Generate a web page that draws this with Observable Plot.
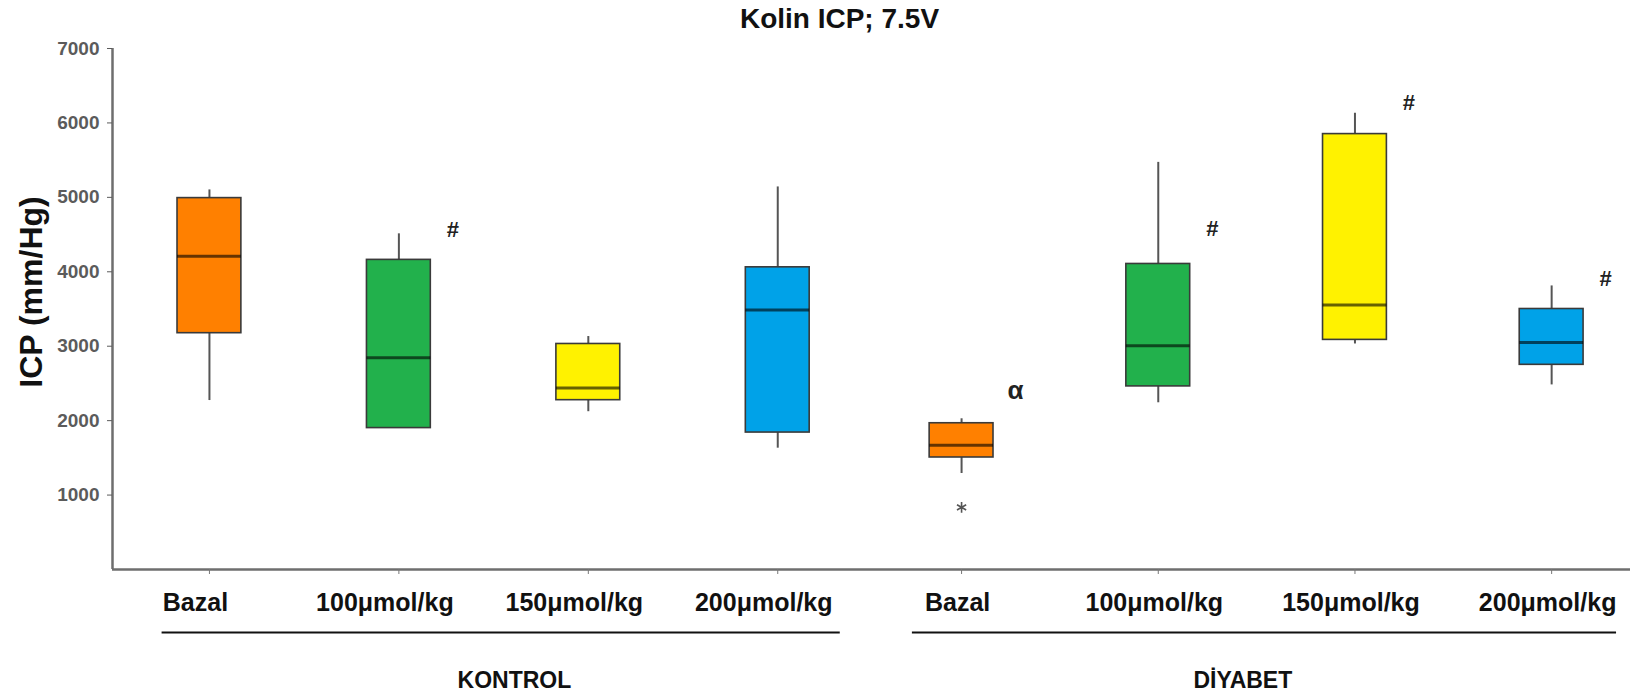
<!DOCTYPE html>
<html>
<head>
<meta charset="utf-8">
<script src="https://cdn.jsdelivr.net/npm/d3@7"></script>
<script src="https://cdn.jsdelivr.net/npm/@observablehq/plot@0.6"></script>
<style>
  html, body { margin: 0; padding: 0; background: #fff; }
  #chart { width: 1630px; height: 697px; }
</style>
</head>
<body>
<div id="chart"></div>
<script>
// ---- data ----
const title = "Kolin ICP; 7.5V";
const yLabel = "ICP (mm/Hg)";
const groups = ["KONTROL", "DİYABET"];
const doses = ["Bazal", "100μmol/kg", "150μmol/kg", "200μmol/kg"];
const doseColors = ["#FF8000", "#22B14C", "#FFF200", "#00A2E8"];
// box order: KONTROL (Bazal,100,150,200), DİYABET (Bazal,100,150,200)
const minV = [2270, 1900, 2120, 1630, 1290, 2240, 3030, 2480];
const q1V  = [3175, 1900, 2275, 1840, 1505, 2460, 3085, 2750];
const medV = [4210, 2845, 2440, 3485, 1670, 3005, 3555, 3050];
const q3V  = [4990, 4160, 3030, 4060, 1965, 4105, 5850, 3500];
const maxV = [5100, 4510, 3130, 5140, 2025, 5470, 6130, 3810];
const markText = ["", "#", "", "", "α", "#", "#", "#"];
const markY    = [null, 4565, null, null, 2400, 4575, 6275, 3905];
const outlierBox = [4];
const outlierY = [835];
const yTicks = [1000, 2000, 3000, 4000, 5000, 6000, 7000];

// ---- layout constants (not data) ----
const groupStart = [0.024, 3.911];   // slot position of each group's first box
const groupStep  = [0.979, 1.0165];  // slot spacing inside each group
const groupLabelShift = [0.11, -0.07];
const groupLabelDx = [-14, -4];      // dose label nudge per group
const halfBox = 0.165;
const font = "'Liberation Sans', Arial, sans-serif";

const boxes = [];
groups.forEach((g, gi) => doses.forEach((d, di) => {
  const i = gi * doses.length + di;
  boxes.push({
    group: g, gi, dose: d, x: groupStart[gi] + di * groupStep[gi], color: doseColors[di],
    min: minV[i], q1: q1V[i], med: medV[i], q3: q3V[i], max: maxV[i],
    mark: markText[i], markY: markY[i]
  });
}));
const groupRows = groups.map((g, gi) => ({
  group: g, gi,
  x1: groupStart[gi] - 0.25 * groupStep[gi],
  x2: groupStart[gi] + 3.33 * groupStep[gi],
  xl: groupStart[gi] + (1.5 + groupLabelShift[gi]) * groupStep[gi]
}));
const tickLabel = new Map(boxes.map(b => [b.x, b.dose]));
const outliers = outlierBox.map((bi, k) => ({x: boxes[bi].x, y: outlierY[k]}));
const xDomain = [-0.477, 7.368];

const doseAxes = groups.map((g, gi) => Plot.axisX({
  ticks: boxes.filter(b => b.gi === gi).map(b => b.x), tickSize: 0, tickPadding: 24,
  fontSize: 25, fontWeight: "bold", color: "#111", label: null, dx: groupLabelDx[gi],
  tickFormat: d => tickLabel.get(d)
}));

const chart = Plot.plot({
  width: 1630,
  height: 697,
  marginLeft: 112,
  marginRight: 0,
  marginTop: 48,
  marginBottom: 128,
  style: {fontFamily: font, color: "#111", background: "#fff"},
  x: {domain: xDomain, axis: null},
  y: {domain: [0, 7000], axis: null},
  marks: [
    // axes lines
    Plot.ruleX([xDomain[0]], {stroke: "#6e6e6e", strokeWidth: 2.5}),
    Plot.ruleY([0], {stroke: "#6e6e6e", strokeWidth: 2.5}),
    Plot.axisY({ticks: yTicks, tickSize: 5, tickPadding: 8, fontSize: 19, fontWeight: "bold",
      color: "#5b5b5b", label: null, tickFormat: d => String(d)}),
    Plot.axisX({ticks: boxes.map(b => b.x), tickSize: 5, text: null, color: "#777", label: null}),
    ...doseAxes,
    // whiskers
    Plot.ruleX(boxes, {x: "x", y1: "q3", y2: "max", stroke: "#555", strokeWidth: 2}),
    Plot.ruleX(boxes, {x: "x", y1: "min", y2: "q1", stroke: "#555", strokeWidth: 2}),
    // boxes
    Plot.rect(boxes, {x1: d => d.x - halfBox, x2: d => d.x + halfBox, y1: "q1", y2: "q3",
      fill: "color", stroke: "#3a3a3a", strokeWidth: 1.6}),
    // medians
    Plot.ruleY(boxes, {y: "med", x1: d => d.x - halfBox, x2: d => d.x + halfBox,
      stroke: "#000", strokeOpacity: 0.6, strokeWidth: 3}),
    // outliers
    Plot.dot(outliers, {x: "x", y: "y", symbol: "asterisk", r: 5, stroke: "#555", strokeWidth: 1.6}),
    // significance marks
    Plot.text(boxes.filter(b => b.mark), {x: "x", y: "markY", text: "mark", dx: 54,
      fontSize: d => d.mark === "α" ? 26 : 22, fontWeight: "bold", fill: "#222"}),
    // group underline + labels
    Plot.ruleY(groupRows, {y: () => 0, x1: "x1", x2: "x2", dy: 63, stroke: "#111", strokeWidth: 2}),
    Plot.text(groupRows, {x: "xl", y: () => 0, text: "group", dy: 111,
      fontSize: 23, fontWeight: "bold", fill: "#111"}),
    // title and y label
    Plot.text([title], {frameAnchor: "top", textAnchor: "middle", lineAnchor: "middle",
      dx: -32, dy: -29, fontSize: 28, fontWeight: "bold", fill: "#111"}),
    Plot.text([yLabel], {frameAnchor: "left", textAnchor: "middle", lineAnchor: "middle",
      rotate: -90, dx: -81, dy: -17, fontSize: 32, fontWeight: "bold", fill: "#111"})
  ]
});
document.getElementById("chart").appendChild(chart);
</script>
</body>
</html>
